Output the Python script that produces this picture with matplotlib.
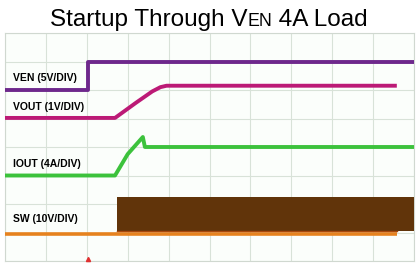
import numpy as np
import matplotlib
matplotlib.use("Agg")
import matplotlib.pyplot as plt

plt.rcParams['font.family'] = ['Liberation Sans', 'DejaVu Sans']

# traces, in scope divisions (x: 0..10, y: 0..8 from bottom)
ven_t = [0.0, 2.02, 2.02, 10.0]
ven_v = [6.0, 6.0, 7.0, 7.0]

vout_t = [0.0, 2.69, 3.2, 3.6, 3.8, 3.95, 9.58]
vout_v = [5.02, 5.02, 5.55, 5.95, 6.1, 6.15, 6.15]

iout_t = [0.0, 2.69, 3.0, 3.37, 3.42, 10.0]
iout_v = [3.0, 3.0, 3.75, 4.35, 4.0, 4.0]

sw_base_t = [0.0, 9.58]
sw_base_v = [0.95, 0.95]
sw_fill_t = [2.74, 10.0]
sw_fill_top = [2.25, 2.25]
sw_fill_bot = [1.05, 1.05]

labels = ["VEN (5V/DIV)", "VOUT (1V/DIV)", "IOUT (4A/DIV)", "SW (10V/DIV)"]
label_y = [6.43, 5.4, 3.4, 1.47]

fig = plt.figure(figsize=(4.2, 2.63), dpi=100)
ax = fig.add_axes([5 / 420, 2 / 263, 409 / 420, 228 / 263])
ax.set_xlim(0, 10)
ax.set_ylim(0, 8)
ax.set_xticks(np.arange(0, 11, 1))
ax.set_yticks(np.arange(0, 9, 1))
ax.tick_params(length=0, labelbottom=False, labelleft=False)
ax.grid(True, color='#d8e2d8', lw=0.8)
ax.set_facecolor('#fbfefb')
for s in ax.spines.values():
    s.set_color('#d0d8d0')
    s.set_linewidth(0.8)

ax.fill_between(sw_fill_t, sw_fill_bot, sw_fill_top, color='#61340a', lw=0, zorder=3)
ax.plot(sw_base_t, sw_base_v, color='#e6821e', lw=2.6, solid_capstyle='butt', zorder=4)
ax.plot([2.74, 9.58], [1.07, 1.07], color='#a8480c', lw=1.0, zorder=4)
ax.plot(ven_t, ven_v, color='#6e288c', lw=2.8, solid_capstyle='butt', zorder=4)
ax.plot(vout_t, vout_v, color='#bc1a76', lw=2.8, solid_capstyle='butt', zorder=4)
ax.plot(iout_t, iout_v, color='#3cc23c', lw=2.8, solid_capstyle='butt', zorder=4)

for txt, y in zip(labels, label_y):
    ax.text(0.2, y, txt, fontsize=7.5, fontweight='bold', color='black',
            va='center', ha='left', zorder=5)

# trigger marker
ax.plot([2.02], [0.08], marker='^', color='#e03030', ms=3, zorder=5, clip_on=False)

# title with small caps "EN"
fig.canvas.draw()
r = fig.canvas.get_renderer()
parts = [("Startup Through V", 17.5), ("EN", 12.8), (" 4A Load", 17.5)]
base_y = 1 - 26 / 263
objs = []
for s, fs in parts:
    t = fig.text(0, base_y, s, fontsize=fs, va='baseline', ha='left')
    objs.append(t)
widths = [t.get_window_extent(r).width for t in objs]
total = sum(widths)
x = (209 - total / 2)
for t, w in zip(objs, widths):
    t.set_x(x / 420)
    x += w

fig.savefig('out.png', dpi=100)
